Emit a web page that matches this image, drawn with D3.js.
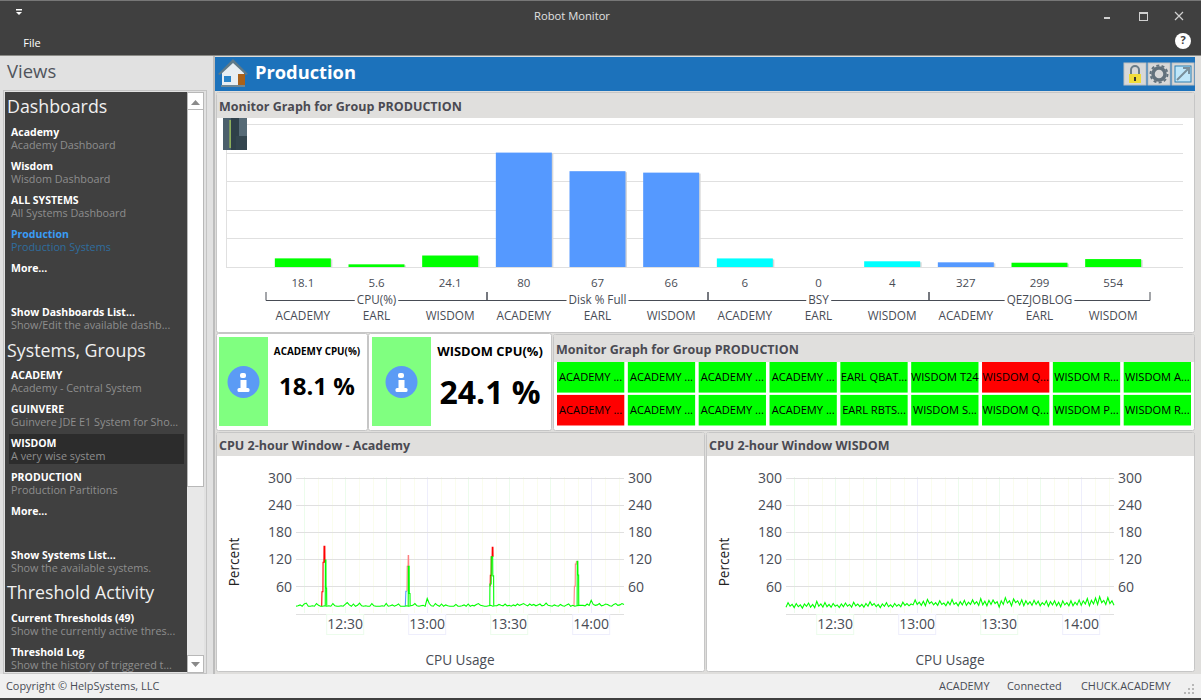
<!DOCTYPE html>
<html>
<head>
<meta charset="utf-8">
<script src="https://cdn.jsdelivr.net/npm/d3@7"></script>
<style>
html, body { margin: 0; padding: 0; background: #404040; overflow: hidden; }
text { font-family: "Open Sans", "Noto Sans", sans-serif; }
</style>
</head>
<body>
<script>
// Bar chart values
var barSystems = ["ACADEMY", "EARL", "WISDOM", "ACADEMY", "EARL", "WISDOM", "ACADEMY", "EARL", "WISDOM", "ACADEMY", "EARL", "WISDOM"];
var barValues = [18.1, 5.6, 24.1, 80, 67, 66, 6, 0, 4, 327, 299, 554];
var barGroupIndex = [0, 0, 0, 1, 1, 1, 2, 2, 2, 3, 3, 3];
var barStates = ["green", "green", "green", "blue", "blue", "blue", "cyan", "cyan", "cyan", "blue", "green", "green"];
var groupNames = ["CPU(%)", "Disk % Full", "BSY", "QEZJOBLOG"];
var groupMaxima = [300, 100, 100, 10000];

// Status tiles
var tileRowOne = ["ACADEMY ...", "ACADEMY ...", "ACADEMY ...", "ACADEMY ...", "EARL QBAT...", "WISDOM T24", "WISDOM Q...", "WISDOM R...", "WISDOM A..."];
var tileRowTwo = ["ACADEMY ...", "ACADEMY ...", "ACADEMY ...", "ACADEMY ...", "EARL RBTS...", "WISDOM S...", "WISDOM Q...", "WISDOM P...", "WISDOM R..."];
var tileRowOneAlert = [0, 0, 0, 0, 0, 0, 1, 0, 0];
var tileRowTwoAlert = [1, 0, 0, 0, 0, 0, 0, 0, 0];

// CPU lines, one sample every 45 seconds from 12:12
var academyCpu = [
  16,17,19,16,21,23,16,16,17,16,22,18,16,16,17,16,17,16,22,17,
  16,16,17,16,20,24,19,16,21,16,18,23,17,16,17,16,16,22,17,16,
  16,16,17,16,22,16,17,19,16,18,21,16,16,16,17,16,17,18,22,17,
  16,17,18,16,33,22,17,16,22,18,16,21,16,19,17,16,16,16,20,16,
  16,17,19,16,21,16,18,17,20,22,18,17,16,16,17,18,16,17,17,20,
  18,17,21,17,18,16,19,17,21,18,20,22,19,17,21,18,20,17,19,21,
  17,18,23,18,17,16,19,17,16,20,17,16,19,21,16,18,16,17,18,18,
  18,17,21,18,29,20,18,19,22,17,18,21,20,17,16,20,22,18,19,22,
  20];
var wisdomCpu = [
  14,24,16,20,13,22,15,19,12,21,16,23,14,20,13,27,16,21,14,24,
  15,20,14,22,16,19,13,21,15,23,16,20,14,25,17,21,15,20,14,22,
  16,26,18,22,15,20,13,21,16,24,15,19,14,22,16,20,15,25,18,22,
  17,21,19,30,20,25,18,27,17,31,22,26,19,24,18,28,20,23,17,26,
  19,31,20,24,17,26,19,29,18,25,20,30,21,26,18,33,19,27,17,29,
  20,30,22,26,14,28,20,35,23,28,17,32,24,28,19,30,17,28,20,26,
  18,29,20,27,17,24,19,28,16,26,19,28,17,25,15,28,19,24,17,28,
  17,25,19,30,18,28,21,33,17,29,21,34,20,37,24,29,20,35,22,28,
  18];

// Spikes on the academy chart: [minutes after 12:12, percent]
var academyRedOne = [[9.4,16],[9.5,48],[9.85,48],[9.9,113],[10.2,113],[10.25,148],[10.55,148],[10.6,112]];
var academyGreenOne = [[10.7,17],[10.75,118],[10.95,118],[11,56],[11.2,56],[11.25,17]];
var academyBlueOne = [[40,16],[40.2,49],[40.6,49]];
var academyPinkOne = [[40.6,49],[40.7,104],[41,104],[41.05,128],[41.2,128],[41.25,104]];
var academyGreenTwo = [[41.05,16],[41.1,104],[41.4,104],[41.45,44],[41.7,44],[41.75,17]];
var academyRedTwo = [[71.05,60],[71.1,84],[71.4,84],[71.45,125],[71.75,125],[71.8,146],[72.05,146],[72.1,125]];
var academyGreenThree = [[70.9,17],[70.95,65],[71.4,65],[71.45,125],[71.95,125],[72,83],[72.3,83],[72.35,17]];
var academyPinkTwo = [[101.7,16],[101.85,60],[102.15,60],[102.2,109],[102.5,109],[102.55,114],[102.9,115]];
var academyGreenFour = [[102.85,17],[102.9,115],[103.1,115],[103.15,85],[103.4,85],[103.45,17]];

var yTicks = [60, 120, 180, 240, 300];
var timeLabels = ["12:30", "13:00", "13:30", "14:00"];

// Side menu
var menuHeadings = [["Dashboards", 107], ["Systems, Groups", 351], ["Threshold Activity", 593]];
var menuTitles = ["Academy", "Wisdom", "ALL SYSTEMS", "Production", "More...", "Show Dashboards List...", "ACADEMY", "GUINVERE", "WISDOM", "PRODUCTION", "More...", "Show Systems List...", "Current Thresholds (49)", "Threshold Log"];
var menuNotes = ["Academy Dashboard", "Wisdom Dashboard", "All Systems Dashboard", "Production Systems", "", "Show/Edit the available dashb...", "Academy - Central System", "Guinvere JDE E1 System for Sho...", "A very wise system", "Production Partitions", "", "Show the available systems.", "Show the currently active thres...", "Show the history of triggered t..."];
var menuRows = [132, 166, 200, 234, 268, 312, 375, 409, 443, 477, 511, 555, 618, 652];

var stateColor = { green: "#00ff00", blue: "#5599ff", cyan: "#00ffff" };
var inkColor = "#484c55";

var svg = d3.select("body").append("svg")
    .attr("width", 1201)
    .attr("height", 700)
    .style("display", "block");

function box(x, y, w, h, fill, stroke, rx) {
    return svg.append("rect").attr("x", x).attr("y", y).attr("width", w).attr("height", h)
        .attr("fill", fill).attr("stroke", stroke || "none").attr("rx", rx || 0);
}
function label(parent, x, y, str, size, color, weight, anchor) {
    return parent.append("text").attr("x", x).attr("y", y + 1).text(str)
        .attr("font-size", size).attr("fill", color)
        .attr("font-weight", weight || "normal")
        .attr("text-anchor", anchor || "start")
        .attr("dominant-baseline", "middle");
}

// Window frame
box(0, 0, 1201, 700, "#404040");
box(0, 0, 1201, 1, "#777777");
box(0, 55, 1201, 1, "#8a8a86");
box(0, 56, 1201, 618, "#dfdedc");
box(0, 56, 213, 618, "#e1e1e1");
box(213, 56, 2, 618, "#bdbdbd");
box(0, 674, 1201, 24, "#f0f0f0");

label(svg, 572, 15.5, "Robot Monitor", 11.2, "#e0e0e0", "normal", "middle");
label(svg, 32, 43, "File", 11, "#ffffff", "normal", "middle");
box(16, 9, 6, 1.5, "#ffffff");
svg.append("path").attr("d", "M16 12 h6 l-3 3 z").attr("fill", "#ffffff");
box(1104, 17, 6, 2, "#d0d0d0");
box(1139.5, 12.5, 8, 8, "none", "#d0d0d0");
box(1139.5, 12, 8, 2, "#d0d0d0");
svg.append("path").attr("d", "M1175 12 l8 8 M1183 12 l-8 8").attr("stroke", "#d0d0d0").attr("stroke-width", 1.2);
svg.append("circle").attr("cx", 1183).attr("cy", 41).attr("r", 8).attr("fill", "#ffffff");
label(svg, 1183, 40, "?", 11, "#404040", "bold", "middle");

// Side menu
label(svg, 7, 72.5, "Views", 18.5, "#50545c");
box(3.5, 90.5, 203, 583, "none", "#c4c4c4");
box(5, 92, 182, 580, "#404040");
box(187, 92, 17, 580, "#e8e8e8");
box(187.5, 92.5, 16, 394, "#ffffff", "#b8b8b8");
box(187.5, 92.5, 16, 17, "#ffffff", "#b8b8b8");
box(187.5, 655.5, 16, 17, "#ffffff", "#b8b8b8");
svg.append("path").attr("d", "M191 105 h9 l-4.5 -5 z").attr("fill", "#8a8a8a");
svg.append("path").attr("d", "M191 662 h9 l-4.5 5 z").attr("fill", "#8a8a8a");
box(9, 434, 175, 30, "#2c2c2c");

menuHeadings.forEach(function(h) {
    label(svg, 7, h[1], h[0], 17.8, "#f0f0f0");
});
menuTitles.forEach(function(t, i) {
    var active = t === "Production";
    label(svg, 11, menuRows[i], t, 10.5, active ? "#3a9cf5" : "#ffffff", "bold");
    label(svg, 11, menuRows[i] + 13, menuNotes[i], 10.8, active ? "#2f6d9e" : "#8e8e8e");
});

// Status bar
label(svg, 6, 686.5, "Copyright © HelpSystems, LLC", 10.9, inkColor);
label(svg, 939, 686.5, "ACADEMY", 10.9, inkColor);
label(svg, 1007, 686.5, "Connected", 10.9, inkColor);
label(svg, 1081, 686.5, "CHUCK.ACADEMY", 10.9, inkColor);
[[1192, 692], [1188, 692], [1184, 692], [1192, 688], [1188, 688], [1192, 684]].forEach(function(p) {
    box(p[0], p[1], 2, 2, "#b8b8b8");
});

// Header strip
box(215, 57, 980, 34, "#1c72bb");
svg.append("path").attr("d", "M222 85 v-13 l11 -11 l11 11 v13 z").attr("fill", "#e8eef2");
svg.append("path").attr("d", "M218 74 l15 -15 l15 15 l-2 1 l-13 -12 l-13 12 z").attr("fill", "#5f7a88");
box(221, 85, 24, 2, "#6d8796");
box(238, 74, 7, 11, "#a9611a");
box(224, 76, 7, 6, "#2a84c8");
label(svg, 255, 73, "Production", 18.3, "#ffffff", "bold");
[1124, 1148, 1172].forEach(function(x) { box(x, 63, 22, 22, "#d8d8d8", "#c0c0c0"); });
box(1129, 74, 12, 9, "#f1dc3a");
svg.append("path").attr("d", "M1131 74 v-4 a4 4 0 0 1 8 0 v4").attr("fill", "none").attr("stroke", "#6a7c88").attr("stroke-width", 2);
box(1134, 77, 2, 4, "#333333");
svg.append("circle").attr("cx", 1159).attr("cy", 74).attr("r", 6).attr("fill", "none").attr("stroke", "#62717c").attr("stroke-width", 3.5);
svg.append("circle").attr("cx", 1159).attr("cy", 74).attr("r", 8.5).attr("fill", "none").attr("stroke", "#62717c").attr("stroke-width", 2).attr("stroke-dasharray", "3 2.3");
box(1175, 66, 16, 16, "#bfe6fa", "#2c7fb0");
svg.append("path").attr("d", "M1177 80 l11 -11 M1183 68 h6 v6").attr("fill", "none").attr("stroke", "#7a8f9c").attr("stroke-width", 2);

// Panels
function panel(x, y, w, h, titleHeight, title) {
    box(x + 0.5, y + 0.5, w, h, "#ffffff", "#c6c6c6", 2);
    if (titleHeight) {
        box(x + 1, y + 1, w - 1, titleHeight, "#e0dfdd");
        label(svg, x + 3, y + titleHeight / 2 + 2, title, 12.5, "#4a4a52", "bold");
    }
}
panel(216, 92, 978, 240, 25, "Monitor Graph for Group PRODUCTION");
panel(216, 333, 151, 97, 0, "");
panel(368, 333, 183, 97, 0, "");
panel(553, 334, 641, 96, 27, "Monitor Graph for Group PRODUCTION");
panel(216, 432, 488, 239, 23, "CPU 2-hour Window - Academy");
panel(706, 432, 488, 239, 23, "CPU 2-hour Window WISDOM");

// Bar chart
var barBand = d3.scaleBand()
    .domain(d3.range(barValues.length))
    .range([266, 1150])
    .paddingInner(0.24)
    .paddingOuter(0.12);
var plotTop = 124, plotBottom = 267;
var groupScales = groupMaxima.map(function(m) {
    return d3.scaleLinear().domain([0, m]).range([plotBottom, plotTop]);
});
var gridScale = d3.scaleLinear().domain([0, 100]).range([plotBottom, plotTop]);

var barChart = svg.append("g");
barChart.selectAll("line.grid")
    .data(gridScale.ticks(5))
    .enter().append("line")
    .attr("class", "grid")
    .attr("x1", 226).attr("x2", 1183)
    .attr("y1", function(d) { return Math.round(gridScale(d)) + 0.5; })
    .attr("y2", function(d) { return Math.round(gridScale(d)) + 0.5; })
    .attr("stroke", "#e0e0e0");
barChart.append("line")
    .attr("x1", 226.5).attr("x2", 226.5).attr("y1", plotTop).attr("y2", plotBottom)
    .attr("stroke", "#e0e0e0");

function barTop(d, i) { return groupScales[barGroupIndex[i]](d); }
function barHeight(d, i) { return plotBottom - barTop(d, i); }
barChart.selectAll("rect.shadow")
    .data(barValues)
    .enter().append("rect")
    .attr("class", "shadow")
    .attr("x", function(d, i) { return barBand(i) + 1.5; })
    .attr("y", function(d, i) { return barTop(d, i) + 1; })
    .attr("width", barBand.bandwidth())
    .attr("height", function(d, i) { return Math.max(0, barHeight(d, i) - 1); })
    .attr("fill", "#d8d8d8");
barChart.selectAll("rect.bar")
    .data(barValues)
    .enter().append("rect")
    .attr("class", "bar")
    .attr("x", function(d, i) { return barBand(i); })
    .attr("y", barTop)
    .attr("width", barBand.bandwidth())
    .attr("height", barHeight)
    .attr("fill", function(d, i) { return stateColor[barStates[i]]; });

barValues.forEach(function(v, i) {
    var cx = barBand(i) + barBand.bandwidth() / 2;
    label(barChart, cx, 282.5, v, 11.5, inkColor, "normal", "middle");
    label(barChart, cx, 316, barSystems[i], 11.8, inkColor, "normal", "middle");
});
var groupStep = barBand.step() * 3;
groupNames.forEach(function(name, g) {
    var x0 = 266 + g * groupStep, x1 = x0 + groupStep;
    barChart.append("path")
        .attr("d", "M" + x0 + " 292 V300.5 H" + x1 + " V292")
        .attr("fill", "none").attr("stroke", "#484c55");
    var t = label(barChart, (x0 + x1) / 2, 300, name, 11.7, inkColor, "normal", "middle");
    var b = t.node().getBBox();
    barChart.insert("rect", "text")
        .attr("x", b.x - 2).attr("y", 295).attr("width", b.width + 4).attr("height", 10)
        .attr("fill", "#ffffff");
});
// the white gaps go above the axis lines
barChart.selectAll("path").lower();
barChart.selectAll("line.grid").lower();

// Server picture in the corner of the graph
box(223, 118, 24, 32, "#4b5f6b");
box(229.5, 120, 1.2, 28, "#a8cf54");
box(231, 118, 8, 32, "#2f4049");
box(239, 118, 8, 32, "#566a76");
box(236, 136, 11, 14, "#33454e");

// Info tiles
function infoTile(x, w, title, titleSize, textX, value, valueSize, valueY) {
    box(x, 337, w, 89, "#80ff80");
    var cx = x + w / 2;
    svg.append("circle").attr("cx", cx).attr("cy", 382).attr("r", 16).attr("fill", "#5b9bf5");
    box(cx - 3.5, 373, 6, 5, "#ffffff", null, 2);
    box(cx - 3, 380, 6, 9, "#ffffff");
    box(cx - 6, 388, 12, 4, "#ffffff", null, 1.5);
    label(svg, textX, 351.5, title, titleSize, "#000000", "bold", "middle");
    label(svg, textX, valueY, value, valueSize, "#000000", "bold", "middle");
}
infoTile(219, 49, "ACADEMY CPU(%)", 9.9, 317, "18.1 %", 24, 388);
infoTile(372, 59, "WISDOM CPU(%)", 12.9, 490, "24.1 %", 32, 394);

// Status tiles
var tileX = d3.scaleBand().domain(d3.range(9)).range([557, 1191]).paddingInner(0.05);
var tileY = d3.scaleBand().domain([0, 1]).range([362, 425.5]).paddingInner(0.07);
[[tileRowOne, tileRowOneAlert], [tileRowTwo, tileRowTwoAlert]].forEach(function(row, r) {
    var g = svg.append("g");
    g.selectAll("rect").data(row[0]).enter().append("rect")
        .attr("x", function(d, i) { return tileX(i); })
        .attr("y", tileY(r))
        .attr("width", tileX.bandwidth())
        .attr("height", tileY.bandwidth())
        .attr("fill", function(d, i) { return row[1][i] ? "#ff0000" : "#00ff00"; });
    row[0].forEach(function(t, i) {
        label(g, tileX(i) + tileX.bandwidth() / 2, tileY(r) + tileY.bandwidth() / 2 - 0.5, t, 11.1, "#000000", "normal", "middle");
    });
});

// CPU line charts
var startTime = new Date(2020, 0, 1, 12, 12);
function minutesLater(m) { return new Date(startTime.getTime() + m * 60000); }

function cpuChart(left, mainSeries, extras) {
    var right = left + 328;
    var x = d3.scaleTime().domain([startTime, minutesLater(120)]).range([left, right]);
    var y = d3.scaleLinear().domain([0, 300]).range([613.5, 477.5]);
    var g = svg.append("g");

    g.selectAll("line.minute")
        .data(x.ticks(d3.timeMinute.every(5)))
        .enter().append("line")
        .attr("class", "minute")
        .attr("x1", function(d) { return Math.round(x(d)) + 0.5; })
        .attr("x2", function(d) { return Math.round(x(d)) + 0.5; })
        .attr("y1", 477).attr("y2", 613)
        .attr("stroke", function(d) {
            if (d.getMinutes() === 0) return "#eeeefc";
            return d.getMinutes() % 15 === 0 ? "#ecfcec" : "#fafdee";
        });
    g.selectAll("line.level")
        .data([0].concat(yTicks))
        .enter().append("line")
        .attr("class", "level")
        .attr("x1", left).attr("x2", right)
        .attr("y1", function(d) { return Math.round(y(d)) + 0.5; })
        .attr("y2", function(d) { return Math.round(y(d)) + 0.5; })
        .attr("stroke", "#e0e0e0");

    var leftAxis = d3.axisLeft(y).tickValues(yTicks).tickSize(0).tickPadding(4);
    var rightAxis = d3.axisRight(y).tickValues(yTicks).tickSize(0).tickPadding(4);
    [g.append("g").attr("transform", "translate(" + left + ",0)").call(leftAxis),
     g.append("g").attr("transform", "translate(" + right + ",0)").call(rightAxis)].forEach(function(a) {
        a.select(".domain").remove();
        a.selectAll("text").attr("font-size", 14).attr("fill", inkColor).attr("dy", "0.34em")
            .attr("font-family", "'Open Sans', sans-serif");
    });

    timeLabels.forEach(function(t) {
        var parts = t.split(":");
        var when = new Date(2020, 0, 1, +parts[0], +parts[1]);
        var cx = x(when);
        g.append("rect")
            .attr("x", cx - 18.5).attr("y", 614.5).attr("width", 37).attr("height", 20)
            .attr("fill", "#ffffff")
            .attr("stroke", +parts[1] === 0 ? "#eeeefc" : "#ecfcec");
        label(g, cx, 624.5, t, 14, inkColor, "normal", "middle");
    });

    var line = d3.line()
        .x(function(d) { return x(minutesLater(d[0])); })
        .y(function(d) { return y(d[1]); });
    extras.forEach(function(e) {
        g.append("path").datum(e.values)
            .attr("d", line).attr("fill", "none")
            .attr("stroke", e.color).attr("stroke-width", 1.1);
    });
    g.append("path")
        .datum(mainSeries.map(function(v, i) { return [i * 0.75, v]; }))
        .attr("d", line).attr("fill", "none")
        .attr("stroke", "#00ff00").attr("stroke-width", 1.1);

    var mid = (left + right) / 2;
    label(g, mid, 660.5, "CPU Usage", 13.6, inkColor, "normal", "middle");
    label(g, 0, 0, "Percent", 13.6, "#222222", "normal", "middle")
        .attr("transform", "translate(" + (left - 62) + ",562) rotate(-90)");
}

cpuChart(296, academyCpu, [
    { values: academyRedOne, color: "#ff0000" },
    { values: academyBlueOne, color: "#5599ff" },
    { values: academyPinkOne, color: "#ff8080" },
    { values: academyRedTwo, color: "#ff0000" },
    { values: academyPinkTwo, color: "#ff8080" },
    { values: academyGreenOne, color: "#00ff00" },
    { values: academyGreenTwo, color: "#00ff00" },
    { values: academyGreenThree, color: "#00ff00" },
    { values: academyGreenFour, color: "#00ff00" }
]);
cpuChart(786, wisdomCpu, []);
</script>
</body>
</html>
